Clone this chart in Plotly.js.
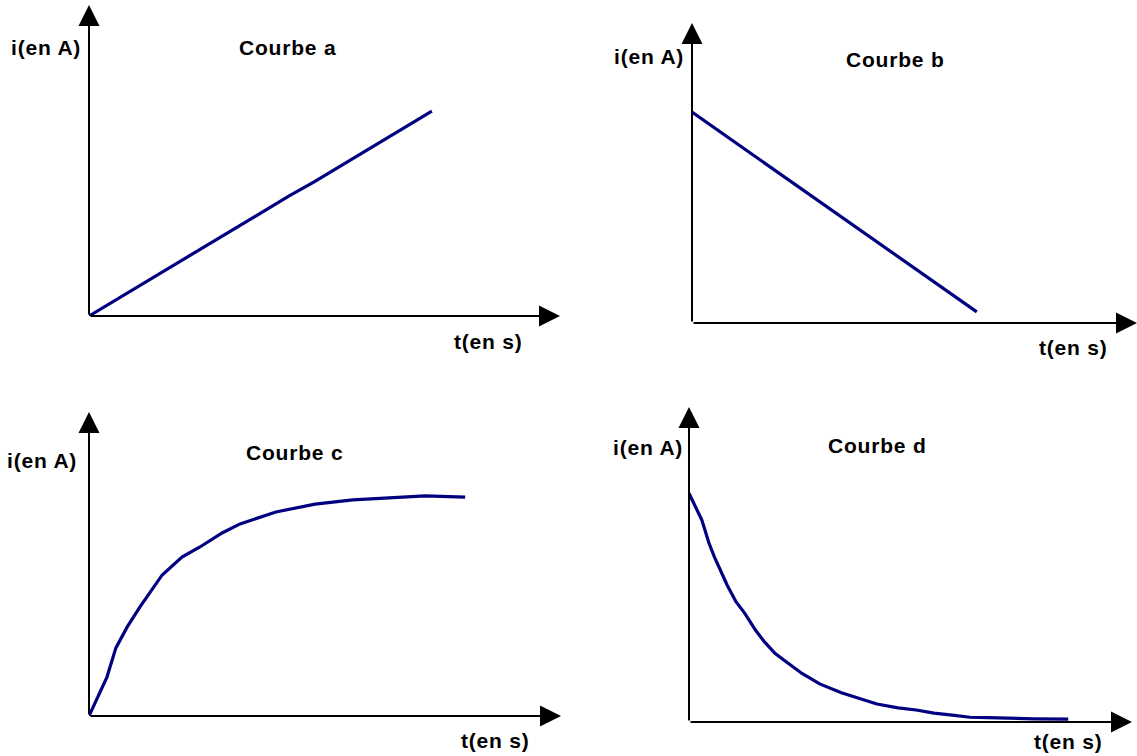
<!DOCTYPE html>
<html>
<head>
<meta charset="utf-8">
<script src="https://cdn.plot.ly/plotly-3.0.1.min.js"></script>
<style>
  html, body { margin: 0; padding: 0; background: #ffffff; overflow: hidden; }
  #chart { width: 1137px; height: 756px; }
  .annotation-text { letter-spacing: 0.8px; }
</style>
</head>
<body>
<div id="chart"></div>
<script>
// ---- Data (arbitrary units; each axis spans 0..10 up to the arrow tip) ----
const titles = ["Courbe a", "Courbe b", "Courbe c", "Courbe d"];
const yLabel = "i(en A)";
const xLabel = "t(en s)";

// Courbe a : linear increase
const tA = [0, 2.12, 2.93, 4.25, 4.78, 6.48, 7.28];
const iA = [0, 1.93, 2.67, 3.86, 4.31, 5.88, 6.59];

// Courbe b : linear decrease
const tB = [0, 6.40];
const iB = [7.03, 0.37];

// Courbe c : rise towards a plateau
const tC = [0, 0.38, 0.57, 0.81, 1.08, 1.36, 1.55, 1.97, 2.35, 2.82, 3.20, 3.96, 4.79, 5.59, 6.36, 7.12, 7.97];
const iC = [0, 1.28, 2.24, 2.93, 3.59, 4.24, 4.64, 5.23, 5.56, 6.02, 6.32, 6.71, 6.97, 7.11, 7.17, 7.24, 7.20];

// Courbe d : decay towards zero
const tD = [0, 0.29, 0.45, 0.57, 0.86, 1.06, 1.26, 1.50, 1.70, 1.94, 2.14, 2.55, 2.95, 3.44, 4.24, 4.72, 5.13, 5.53, 5.94, 6.34, 6.74, 7.15, 7.79, 8.56];
const iD = [7.26, 6.41, 5.68, 5.25, 4.35, 3.82, 3.45, 2.92, 2.55, 2.18, 1.97, 1.54, 1.21, 0.93, 0.57, 0.45, 0.38, 0.28, 0.22, 0.15, 0.14, 0.12, 0.10, 0.09];

const AXMAX = 10;

// ---- Layout geometry (pixels in the 1137x756 page) ----
const W = 1137, H = 756;
const panels = [
  {t: tA, i: iA, x0: 89,  x1: 560,  y0: 316, y1: 5,
   yl: [46, 47],  tt: [287, 47],  xl: [488, 342]},
  {t: tB, i: iB, x0: 692, x1: 1137, y0: 323, y1: 23,
   yl: [649, 57], tt: [895, 60],  xl: [1073, 347]},
  {t: tC, i: iC, x0: 89,  x1: 561,  y0: 716, y1: 412,
   yl: [42, 460], tt: [294, 452], xl: [495, 740]},
  {t: tD, i: iD, x0: 689, x1: 1132, y0: 722, y1: 407,
   yl: [648, 447], tt: [877, 445], xl: [1068, 741]}
];

const curveColor = "#000080";
const font = {family: "Liberation Sans, Arial, sans-serif", size: 21, color: "#000000", weight: "bold"};

const traces = [];
const layout = {
  width: W, height: H,
  margin: {l: 0, r: 0, t: 0, b: 0, pad: 0},
  paper_bgcolor: "#ffffff", plot_bgcolor: "#ffffff",
  showlegend: false,
  annotations: []
};

panels.forEach((p, k) => {
  const n = k + 1;
  const xa = "x" + (n === 1 ? "" : n);
  const ya = "y" + (n === 1 ? "" : n);
  traces.push({
    type: "scatter", mode: "lines",
    x: p.t, y: p.i,
    xaxis: xa, yaxis: ya,
    line: {color: curveColor, width: 3.2},
    hoverinfo: "skip"
  });
  const axCommon = {visible: false, showgrid: false, zeroline: false, fixedrange: true,
                    range: [0, AXMAX]};
  layout["xaxis" + (n === 1 ? "" : n)] = Object.assign({}, axCommon, {
    domain: [p.x0 / W, p.x1 / W], anchor: ya
  });
  layout["yaxis" + (n === 1 ? "" : n)] = Object.assign({}, axCommon, {
    domain: [1 - p.y0 / H, 1 - p.y1 / H], anchor: xa
  });
  // axes drawn as arrows (tip at the end of each range)
  const arrow = {text: "", showarrow: true, arrowhead: 2, arrowsize: 2.1, arrowwidth: 2,
                 arrowcolor: "#000000", standoff: 0, startstandoff: 0,
                 xref: xa, yref: ya, axref: xa, ayref: ya, ax: 0, ay: 0};
  layout.annotations.push(Object.assign({}, arrow, {x: AXMAX, y: 0}));
  layout.annotations.push(Object.assign({}, arrow, {x: 0, y: AXMAX}));
  // texts
  const lab = (txt, pos) => ({
    text: txt, showarrow: false, xref: "paper", yref: "paper",
    x: pos[0] / W, y: 1 - pos[1] / H, xanchor: "center", yanchor: "middle",
    font: font
  });
  layout.annotations.push(lab(yLabel, p.yl));
  layout.annotations.push(lab(titles[k], p.tt));
  layout.annotations.push(lab(xLabel, p.xl));
});

Plotly.newPlot("chart", traces, layout, {displayModeBar: false, staticPlot: true});
</script>
</body>
</html>
